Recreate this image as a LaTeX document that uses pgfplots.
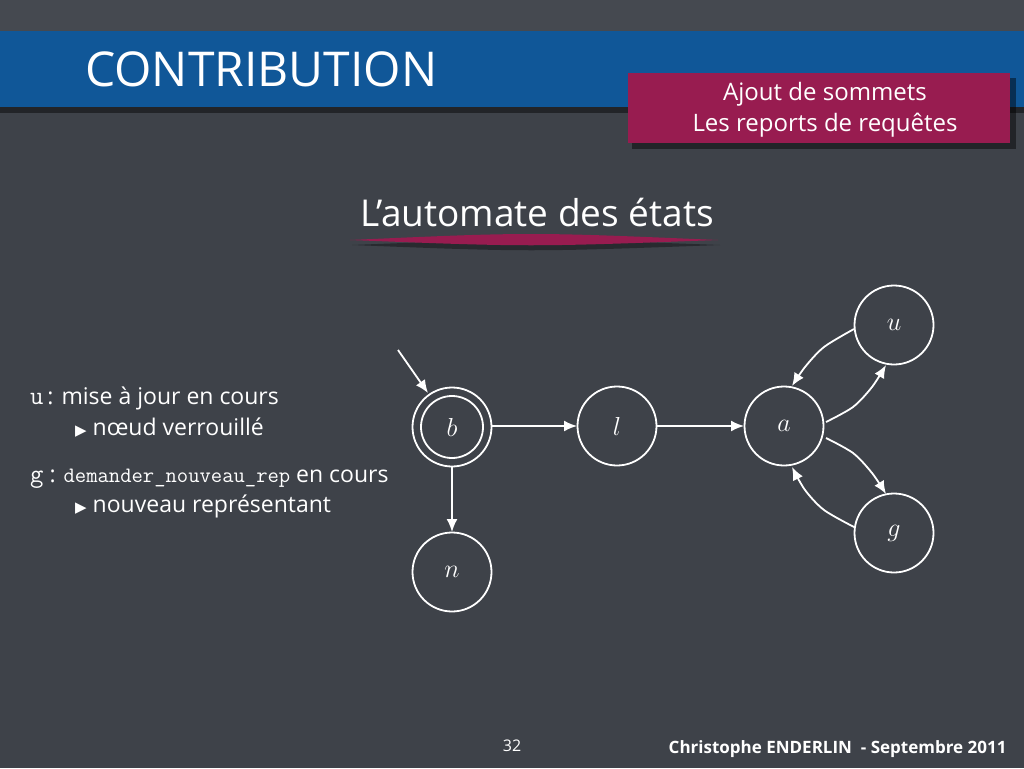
\RequirePackage{fix-cm}
\documentclass[border=0pt]{standalone}
\usepackage{pgfplots}
\pgfplotsset{compat=1.18}
\usepackage{pgfplotstable}
\usepackage{fontspec}
\setmainfont{Open Sans}
\newfontfamily\dv{DejaVu Sans}
\usetikzlibrary{arrows.meta}
\definecolor{board}{RGB}{62,66,73}
\definecolor{band}{RGB}{16,87,152}
\definecolor{mag}{RGB}{152,28,80}

\pgfplotstableread{
x y lab
452 427 b
617 426 l
784 426 a
894 325 u
894 533 g
452 572 n
}\states

\begin{document}
\begin{tikzpicture}
\begin{axis}[scale only axis, width=1024pt, height=768pt,
  xmin=0, xmax=1024, ymin=0, ymax=768, y dir=reverse,
  hide axis, clip=false]
% background
\fill[board] (0,0) rectangle (1024,768);
\fill[white, opacity=0.04] (0,0) rectangle (1024,31);
% blue band with shadow
\fill[black, opacity=0.45] (0,35) rectangle (1024,113);
\fill[band] (0,31) rectangle (1024,107);
\node[anchor=base west, inner sep=0pt, text=white, font=\fontsize{48}{54}\selectfont] at (85,86) {CONTRIBUTION};
% magenta box
\fill[black, opacity=0.45] (632,78) rectangle (1016,149);
\fill[mag] (628,73) rectangle (1010,143);
\node[text=white, font=\fontsize{24}{28}\selectfont] at (825,94) {Ajout de sommets};
\node[text=white, font=\fontsize{24}{28}\selectfont] at (825,125) {Les reports de requêtes};
% subtitle
\node[text=white, font=\fontsize{37}{42}\selectfont] at (537,213) {L’automate des états};
\fill[black, opacity=0.35] (352,245) .. controls (530,238) .. (720,245) .. controls (530,252) .. (352,245) -- cycle;
\fill[mag] (350,240) .. controls (530,232) .. (718,240) .. controls (530,247) .. (350,240) -- cycle;
% left text
\node[anchor=base west, inner sep=0pt, text=white, font=\fontsize{23}{26}\selectfont] at (30,404) {{\ttfamily\fontsize{26}{28}\selectfont u}\,: mise à jour en cours};
\node[anchor=base west, inner sep=0pt, text=white, font=\fontsize{23}{26}\selectfont] at (75,435) {{\dv\fontsize{15}{16}\selectfont ▶}\ nœud verrouillé};
\node[anchor=base west, inner sep=0pt, text=white, font=\fontsize{23}{26}\selectfont] at (30,482) {{\ttfamily\fontsize{26}{28}\selectfont g} : {\ttfamily\fontsize{22}{24}\selectfont demander\_nouveau\_rep} en cours};
\node[anchor=base west, inner sep=0pt, text=white, font=\fontsize{23}{26}\selectfont] at (75,512) {{\dv\fontsize{15}{16}\selectfont ▶}\ nouveau représentant};
% footer
\node[anchor=base, text=white, font=\fontsize{16}{18}\selectfont] at (512,751) {32};
\node[anchor=base east, text=white, font=\bfseries\fontsize{17}{19}\selectfont] at (1010,753) {Christophe ENDERLIN\ \ - Septembre 2011};

% states
\addplot[only marks, mark=o, mark size=39.5pt, mark options={draw=white, line width=1.8pt},
  point meta=explicit symbolic,
  nodes near coords={\fontsize{26}{30}\selectfont$\pgfplotspointmeta$},
  every node near coord/.append style={anchor=center, text=white}]
  table[x=x, y=y, meta=lab] {\states};
\addplot[only marks, mark=o, mark size=31pt, mark options={draw=white, line width=1.8pt}]
  coordinates {(452,427)};
% transitions
\pgfplotsset{arr/.style={white, line width=1.8pt, -{Latex[length=13pt,width=11pt]}}}
\addplot[arr] coordinates {(398,350) (428,393)};
\addplot[arr] coordinates {(492,426) (577,426)};
\addplot[arr] coordinates {(657,426) (744,426)};
\addplot[arr] coordinates {(452,467) (452,532)};
\addplot[arr, smooth] coordinates {(826,422) (853,407) (872,387) (886,365)};
\addplot[arr, smooth] coordinates {(854,329) (824,347) (805,367) (792,386)};
\addplot[arr, smooth] coordinates {(826,438) (853,453) (872,473) (886,494)};
\addplot[arr, smooth] coordinates {(854,527) (824,510) (805,490) (792,467)};
\end{axis}
\end{tikzpicture}
\end{document}
